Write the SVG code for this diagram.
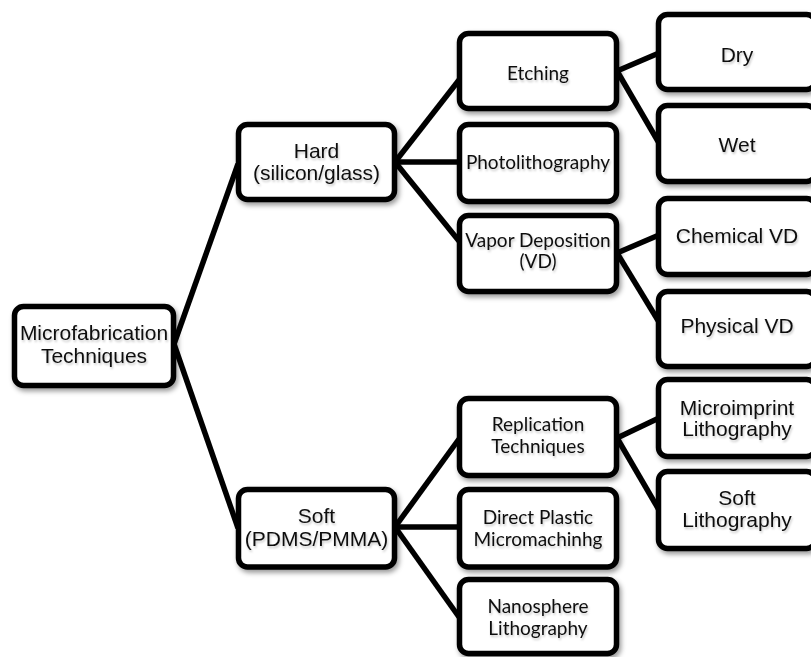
<svg xmlns="http://www.w3.org/2000/svg" width="811" height="657" viewBox="0 0 811 657">
<defs>
<filter id="sh" x="-20%" y="-20%" width="140%" height="150%">
<feDropShadow dx="2" dy="3" stdDeviation="2.5" flood-color="#000" flood-opacity="0.4"/>
</filter>
<filter id="tsh" x="-10%" y="-30%" width="120%" height="160%">
<feDropShadow dx="1" dy="2" stdDeviation="1.2" flood-color="#000" flood-opacity="0.22"/>
</filter>
</defs>
<style>
.box{fill:#fff;stroke:#000;stroke-width:5.5;filter:url(#sh)}
.a{font-family:"Liberation Sans",Arial,sans-serif;font-size:21px;fill:#111;text-anchor:middle;filter:url(#tsh)}
.c{font-family:Lato,"Noto Sans",sans-serif;font-size:19px;fill:#111;text-anchor:middle;filter:url(#tsh)}
.ln{stroke:#000;stroke-width:5.5;fill:none}
</style>
<rect width="811" height="657" fill="#fff"/>
<g id="connectors" class="ln">
<line x1="174" y1="344" x2="238" y2="164"/>
<line x1="174" y1="344" x2="238" y2="528"/>
<line x1="395" y1="162" x2="459" y2="80"/>
<line x1="395" y1="162" x2="459" y2="162"/>
<line x1="395" y1="162" x2="459" y2="241"/>
<line x1="395" y1="527" x2="459" y2="439"/>
<line x1="395" y1="527" x2="459" y2="527"/>
<line x1="395" y1="527" x2="459" y2="617"/>
<line x1="617" y1="71" x2="659" y2="53"/>
<line x1="617" y1="71" x2="659" y2="143"/>
<line x1="617" y1="253" x2="659" y2="235"/>
<line x1="617" y1="253" x2="659" y2="322"/>
<line x1="617" y1="438" x2="659" y2="418"/>
<line x1="617" y1="438" x2="659" y2="510"/>
</g>
<g id="root"><rect class="box" x="14.5" y="306.5" width="159" height="79" rx="9"/>
<text class="a" x="94" y="340">Microfabrication</text><text class="a" x="94" y="363">Techniques</text></g>
<g id="hard"><rect class="box" x="238.5" y="124.5" width="156" height="75" rx="9"/>
<text class="a" x="316.5" y="158">Hard</text><text class="a" x="316.5" y="180">(silicon/glass)</text></g>
<g id="soft"><rect class="box" x="238.5" y="489.5" width="156" height="77.5" rx="9"/>
<text class="a" x="316.5" y="523">Soft</text><text class="a" x="316.5" y="546">(PDMS/PMMA)</text></g>
<g id="etching"><rect class="box" x="459.5" y="33.5" width="157" height="75" rx="9"/>
<text class="c" x="538" y="80">Etching</text></g>
<g id="photolithography"><rect class="box" x="459.5" y="124.5" width="157" height="77" rx="9"/>
<text class="c" x="538" y="169">Photolithography</text></g>
<g id="vapor"><rect class="box" x="459.5" y="215.5" width="157" height="76" rx="9"/>
<text class="c" x="538" y="247">Vapor Deposition</text><text class="c" x="538" y="268">(VD)</text></g>
<g id="replication"><rect class="box" x="459.5" y="398.5" width="157" height="77" rx="9"/>
<text class="c" x="538" y="431">Replication</text><text class="c" x="538" y="453">Techniques</text></g>
<g id="direct"><rect class="box" x="459.5" y="489.5" width="157" height="77.5" rx="9"/>
<text class="c" x="538" y="524">Direct Plastic</text><text class="c" x="538" y="546">Micromachinhg</text></g>
<g id="nanosphere"><rect class="box" x="459.5" y="579.5" width="157" height="74" rx="9"/>
<text class="c" x="538" y="613">Nanosphere</text><text class="c" x="538" y="635">Lithography</text></g>
<g id="dry"><rect class="box" x="658.5" y="14.5" width="157" height="75" rx="9"/>
<text class="a" x="737" y="62">Dry</text></g>
<g id="wet"><rect class="box" x="658.5" y="105.5" width="157" height="76" rx="9"/>
<text class="a" x="737" y="152">Wet</text></g>
<g id="chemical"><rect class="box" x="658.5" y="198.5" width="157" height="76" rx="9"/>
<text class="a" x="737" y="243">Chemical VD</text></g>
<g id="physical"><rect class="box" x="658.5" y="291.5" width="157" height="75" rx="9"/>
<text class="a" x="737" y="333">Physical VD</text></g>
<g id="microimprint"><rect class="box" x="658.5" y="379.5" width="157" height="77" rx="9"/>
<text class="a" x="737" y="415">Microimprint</text><text class="a" x="737" y="436">Lithography</text></g>
<g id="softlith"><rect class="box" x="658.5" y="471.5" width="157" height="77" rx="9"/>
<text class="a" x="737" y="505">Soft</text><text class="a" x="737" y="527">Lithography</text></g>
</svg>
